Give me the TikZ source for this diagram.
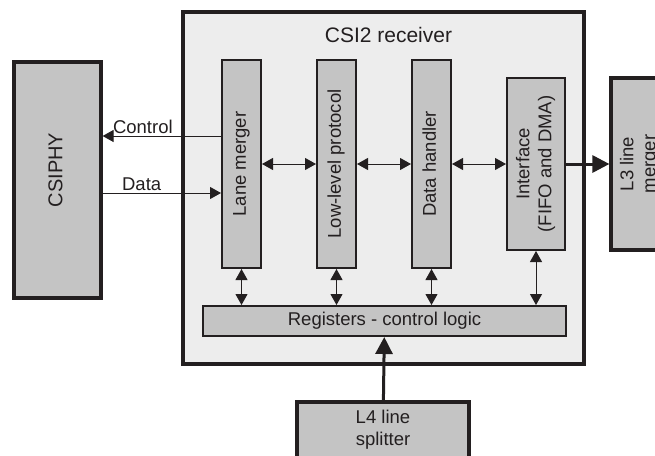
\documentclass[tikz,border=0pt]{standalone}
\usepackage{fontspec}
\setmainfont{Liberation Sans}
\usetikzlibrary{arrows.meta, positioning}
\definecolor{rline}{HTML}{231F20}
\definecolor{rblock}{HTML}{C4C4C4}
\definecolor{rpanel}{HTML}{EDEDED}
\newcommand{\vlabel}[1]{\rotatebox{90}{\begin{tabular}{@{}c@{}}#1\end{tabular}}}
\tikzset{
  lbl/.style={font=\fontsize{18.5}{22}\selectfont, text=rline},
  block/.style={rectangle, draw=rline, fill=rblock, line width=2pt, inner sep=0pt, align=center, lbl},
  ext/.style={block, line width=3.2pt},
  panel/.style={rectangle, draw=rline, fill=rpanel, line width=3.2pt},
  link/.style={{Triangle[length=11pt,width=12pt]}-{Triangle[length=11pt,width=12pt]}, draw=rline, line width=1pt},
  sig/.style={-{Triangle[length=11pt,width=12pt]}, draw=rline, line width=1pt},
  bus/.style={-{Triangle[length=17pt,width=17pt]}, draw=rline, line width=3pt}
}
\begin{document}
\begin{tikzpicture}[x=1pt, y=-1pt, node distance=54pt]
  \useasboundingbox (0,0) rectangle (655,455);
  \clip (0,0) rectangle (655,455);
  \node[panel, minimum width=401pt, minimum height=352pt] (csi2) at (383.5,188) {};
  \node[lbl, font=\fontsize{21}{25}\selectfont] (title) at (388.5,35) {CSI2 receiver};

  \node[block, minimum width=39pt, minimum height=208pt] (lane) at (241.5,164) {\vlabel{Lane merger}};
  \node[block, minimum width=39pt, minimum height=208pt, right=of lane] (llp) {\vlabel{Low-level protocol}};
  \node[block, minimum width=39pt, minimum height=208pt, right=of llp] (dh) {\vlabel{Data handler}};
  \node[block, minimum width=58pt, minimum height=172pt, right=of dh] (iface) {\vlabel{Interface\\(FIFO and DMA)}};
  \node[block, minimum width=363pt, minimum height=30pt] (regs) at (384.5,321) {Registers - control logic};

  \node[ext, minimum width=87pt, minimum height=236pt, font=\fontsize{20}{24}\selectfont] (phy) at (57.5,180) {\vlabel{\hspace*{20pt}CSIPHY}};
  \node[ext, minimum width=58pt, minimum height=172pt] (l3) at (640,164) {\vlabel{L3 line\\merger}};
  \node[ext, minimum width=172pt, minimum height=56pt] (l4) at (383,430) {L4 line\\splitter};

  \draw[link] (lane) -- (llp);
  \draw[link] (llp) -- (dh);
  \draw[link] (dh) -- (iface);
  \draw[bus] (iface) -- (l3);
  \foreach \b in {lane, llp, dh, iface}
    \draw[link] (\b.south) -- (\b.south |- regs.north);
  \draw[bus] (l4) -- (regs);
  \draw[sig] ([yshift=28pt]lane.west) -- node[lbl, above, pos=0.66, inner sep=2pt] {Control} ([yshift=28pt]lane.west -| phy.east);
  \draw[sig] ([yshift=-13pt]phy.east) -- node[lbl, above, pos=0.33, inner sep=2pt] {Data} ([yshift=-13pt]phy.east -| lane.west);
\end{tikzpicture}
\end{document}
